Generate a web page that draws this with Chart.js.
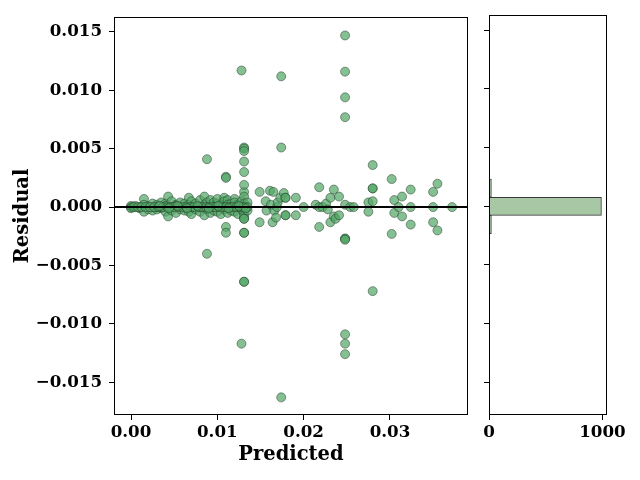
<!DOCTYPE html>
<html>
<head>
<meta charset="utf-8">
<script src="https://cdn.jsdelivr.net/npm/chart.js@4.4.0/dist/chart.umd.min.js"></script>
<style>
    body { margin: 0; background: #fff; width: 640px; height: 480px; position: relative; overflow: hidden; }
    canvas { position: absolute; top: 0; }
    #main { left: 0; }
    #hist { left: 478px; }
</style>
</head>
<body>
<canvas id="main" width="478" height="480"></canvas>
<canvas id="hist" width="162" height="480"></canvas>
<script>
// --- Datos: predicho vs residuo ---
const predicted = [
    0.0000, 0.0000, 0.0000, 0.0000, 0.0005, 0.0005, 0.0010, 0.0010,
    0.0015, 0.0015, 0.0015, 0.0020, 0.0020, 0.0025, 0.0025, 0.0025,
    0.0030, 0.0030, 0.0030, 0.0035, 0.0035, 0.0035, 0.0040, 0.0040, 0.0040,
    0.0043, 0.0043, 0.0047, 0.0047, 0.0047, 0.0052, 0.0052, 0.0052,
    0.0057, 0.0057, 0.0057, 0.0062, 0.0062, 0.0067, 0.0067, 0.0067,
    0.0070, 0.0070, 0.0070, 0.0075, 0.0075, 0.0080, 0.0080, 0.0080,
    0.0085, 0.0085, 0.0085, 0.0088, 0.0088, 0.0092, 0.0092, 0.0092,
    0.0096, 0.0096, 0.0096, 0.0100, 0.0100, 0.0100, 0.0104, 0.0104,
    0.0108, 0.0108, 0.0108, 0.0108, 0.0112, 0.0112, 0.0112,
    0.0116, 0.0116, 0.0116, 0.0120, 0.0120, 0.0120, 0.0124, 0.0124, 0.0124,
    0.0128, 0.0128, 0.0131, 0.0131, 0.0131, 0.0131, 0.0131, 0.0131,
    0.0135, 0.0135, 0.0135,
    // banda densa sobre cero
    0.0003, 0.0008, 0.0012, 0.0017, 0.0022, 0.0027, 0.0032, 0.0037, 0.0042, 0.0045,
    0.0050, 0.0055, 0.0060, 0.0064, 0.0069, 0.0073, 0.0078, 0.0083, 0.0087, 0.0090,
    0.0094, 0.0098, 0.0102, 0.0106, 0.0110, 0.0114, 0.0118, 0.0122, 0.0126, 0.0130,
    0.0033, 0.0044, 0.0054, 0.0065, 0.0077, 0.0090, 0.0101, 0.0113, 0.0125, 0.0133,
    // columna 0.0131 y alrededores
    0.0131, 0.0131, 0.0131, 0.0131, 0.0131, 0.0131, 0.0131, 0.0131, 0.0131, 0.0131,
    0.0131, 0.0131, 0.0128, 0.0128, 0.0110, 0.0110, 0.0110, 0.0110, 0.0088, 0.0088,
    // zona media
    0.0149, 0.0149, 0.0156, 0.0157, 0.0161, 0.0162, 0.0164, 0.0165, 0.0166, 0.0168,
    0.0169, 0.0170, 0.0173, 0.0174, 0.0174, 0.0174, 0.0177, 0.0179, 0.0179, 0.0179, 0.0179,
    0.0191, 0.0191, 0.0200, 0.0214, 0.0218, 0.0218, 0.0218, 0.0222, 0.0226, 0.0228,
    0.0231, 0.0231, 0.0235, 0.0235, 0.0237, 0.0241, 0.0241,
    // columna 0.0248
    0.0248, 0.0248, 0.0248, 0.0248, 0.0248, 0.0248, 0.0248, 0.0248, 0.0248, 0.0248, 0.0248,
    0.0254, 0.0258,
    // derecha
    0.0275, 0.0275, 0.0280, 0.0280, 0.0280, 0.0280, 0.0280, 0.0302, 0.0302,
    0.0305, 0.0305, 0.0310, 0.0314, 0.0314, 0.0324, 0.0324, 0.0324,
    0.0350, 0.0350, 0.0350, 0.0355, 0.0355, 0.0372
];
const residual = [
    0.0000, 0.0000, 0.0001, -0.0001, 0.0000, 0.0001, 0.0000, -0.0001,
    0.0007, -0.0004, 0.0002, 0.0001, -0.0002, 0.0000, 0.0003, -0.0003,
    0.0002, -0.0002, 0.0000, 0.0004, -0.0001, 0.0000, 0.0003, -0.0004, 0.0001,
    0.0009, -0.0008, 0.0005, -0.0003, 0.0000, 0.0002, -0.0005, 0.0001,
    0.0004, 0.0000, -0.0002, 0.0003, -0.0003, 0.0008, 0.0002, -0.0004,
    0.0005, -0.0006, 0.0000, 0.0003, -0.0002, 0.0006, -0.0004, 0.0000,
    0.0009, -0.0007, 0.0002, 0.0004, -0.0002, 0.0002, -0.0005, 0.0006,
    0.0004, 0.0000, -0.0003, 0.0003, -0.0004, 0.0007, 0.0002, -0.0006,
    0.0008, 0.0005, -0.0002, 0.0000, 0.0006, -0.0005, 0.0002,
    0.0003, -0.0003, 0.0000, 0.0007, -0.0004, 0.0004, 0.0002, -0.0006, 0.0000,
    0.0005, -0.0002, 0.0013, 0.0009, -0.0005, 0.0003, -0.0008, 0.0000,
    0.0004, -0.0003, 0.0000,
    0.0000, 0.0000, 0.0000, 0.0000, 0.0000, 0.0000, 0.0000, 0.0000, 0.0000, 0.0000,
    0.0000, 0.0000, 0.0000, 0.0000, 0.0000, 0.0000, 0.0000, 0.0000, 0.0000, 0.0000,
    0.0000, 0.0000, 0.0000, 0.0000, 0.0000, 0.0000, 0.0000, 0.0000, 0.0000, 0.0000,
    0.0001, -0.0001, 0.0001, -0.0001, 0.0001, -0.0001, 0.0001, -0.0001, 0.0001, -0.0001,
    0.0051, 0.0050, 0.0048, 0.0039, 0.0030, 0.0019, -0.0010, -0.0010, -0.0022, -0.0064,
    -0.0064, -0.0022, 0.0117, -0.0117, 0.0026, 0.0025, -0.0017, -0.0022, 0.0041, -0.0040,
    0.0013, -0.0013, 0.0005, -0.0003, 0.0014, 0.0002, -0.0013, 0.0013, -0.0003, -0.0009,
    0.0000, 0.0004, 0.0008, 0.0112, 0.0051, -0.0163, 0.0012, 0.0008, 0.0008, -0.0007, -0.0007,
    0.0008, -0.0007, 0.0000, 0.0002, 0.0017, -0.0017, 0.0000, 0.0000, 0.0003, -0.0002,
    0.0008, -0.0013, 0.0015, -0.0008, -0.0010, 0.0009, -0.0007,
    0.0147, 0.0116, 0.0094, 0.0077, 0.0002, -0.0027, -0.0027, -0.0028, -0.0109, -0.0117, -0.0126,
    0.0000, 0.0000,
    0.0004, -0.0004, 0.0036, 0.0016, 0.0016, 0.0005, -0.0072, 0.0024, -0.0023,
    0.0006, -0.0005, 0.0000, 0.0009, -0.0008, 0.0015, 0.0000, -0.0015,
    0.0013, 0.0000, -0.0013, 0.0020, -0.0020, 0.0000
];

// --- Histograma de residuos (20 bins) ---
const binCenters = [
    -0.015525, -0.013975, -0.012425, -0.010875, -0.009325, -0.007775, -0.006225,
    -0.004675, -0.003125, -0.001575, -0.000025, 0.001525, 0.003075, 0.004625,
    0.006175, 0.007725, 0.009275, 0.010825, 0.012375, 0.013925
];
const binCounts = [1, 0, 3, 1, 0, 1, 2, 1, 3, 21, 991, 21, 5, 6, 0, 1, 1, 2, 1, 1];

const xTicks = [0, 0.01, 0.02, 0.03];
const yTicks = [-0.015, -0.01, -0.005, 0, 0.005, 0.01, 0.015];
const histTicks = [0, 1000];

const Y_MIN = -0.01781, Y_MAX = 0.01628;
const X_MIN = -0.00197, X_MAX = 0.03904;

Chart.defaults.font.family = "'DejaVu Serif', serif";
Chart.defaults.font.weight = "bold";
Chart.defaults.color = "#000";

const tickFont = { size: 16.7, weight: "bold" };
const labelFont = { size: 19.5, weight: "bold" };

// marco completo alrededor del area
const boxPlugin = {
    id: "box",
    afterDraw(chart) {
        const { ctx, chartArea: a } = chart;
        ctx.save();
        ctx.strokeStyle = "#000";
        ctx.lineWidth = 1;
        ctx.strokeRect(Math.round(a.left) + 0.5, Math.round(a.top) + 0.5,
            Math.round(a.right - a.left) - 1, Math.round(a.bottom - a.top) - 1);
        ctx.restore();
    }
};

// linea horizontal en residuo cero
const zeroLine = {
    id: "zeroLine",
    afterDatasetsDraw(chart) {
        const { ctx, chartArea: a, scales } = chart;
        const y = scales.y.getPixelForValue(0);
        ctx.save();
        ctx.strokeStyle = "#000";
        ctx.lineWidth = 2;
        ctx.beginPath();
        ctx.moveTo(a.left, y);
        ctx.lineTo(a.right, y);
        ctx.stroke();
        ctx.restore();
    }
};

const tickGrid = { drawOnChartArea: false, tickLength: 5, tickColor: "#000", tickWidth: 1, offset: false };
const fmtY = v => (v < 0 ? "\u2212" : "") + Math.abs(v).toFixed(3);

new Chart(document.getElementById("main"), {
    type: "scatter",
    data: {
        datasets: [{
            data: predicted.map((p, i) => ({ x: p, y: residual[i] })),
            backgroundColor: "rgba(85,168,104,0.72)",
            borderColor: "rgba(30,50,35,0.6)",
            borderWidth: 0.8,
            pointRadius: 4.5,
            pointHoverRadius: 4.5
        }]
    },
    options: {
        responsive: false,
        animation: false,
        devicePixelRatio: 1,
        layout: { padding: { left: 0, right: 10, top: 15, bottom: 0 } },
        plugins: { legend: { display: false }, tooltip: { enabled: false } },
        scales: {
            x: {
                type: "linear", min: X_MIN, max: X_MAX,
                afterBuildTicks: s => { s.ticks = xTicks.map(v => ({ value: v })); },
                afterFit: s => { s.height = 65; },
                ticks: { font: tickFont, padding: 3, maxRotation: 0, callback: v => v.toFixed(2) },
                grid: tickGrid,
                border: { display: false },
                title: { display: true, text: "Predicted", font: labelFont, padding: { top: 0, bottom: 13 } }
            },
            y: {
                type: "linear", min: Y_MIN, max: Y_MAX,
                afterBuildTicks: s => { s.ticks = yTicks.map(v => ({ value: v })); },
                afterFit: s => { s.width = 114; },
                ticks: { font: tickFont, padding: 7, callback: fmtY },
                grid: tickGrid,
                border: { display: false },
                title: { display: true, text: "Residual", font: labelFont, padding: { top: 11, bottom: 0 } }
            }
        }
    },
    plugins: [boxPlugin, zeroLine]
});

new Chart(document.getElementById("hist"), {
    type: "bar",
    data: {
        datasets: [{
            data: binCounts.map((c, i) => ({ x: c, y: binCenters[i] })),
            backgroundColor: "#a7c7a5",
            borderColor: "#3a3a3a",
            borderWidth: 1,
            barPercentage: 1,
            categoryPercentage: 1
        }]
    },
    options: {
        indexAxis: "y",
        responsive: false,
        animation: false,
        devicePixelRatio: 1,
        layout: { padding: { left: 0, right: 33, top: 15, bottom: 0 } },
        plugins: { legend: { display: false }, tooltip: { enabled: false } },
        scales: {
            x: {
                type: "linear", min: 0, max: 1040,
                afterBuildTicks: s => { s.ticks = histTicks.map(v => ({ value: v })); },
                afterFit: s => { s.height = 65; },
                ticks: { font: tickFont, padding: 3, maxRotation: 0, callback: v => String(v) },
                grid: tickGrid,
                border: { display: false }
            },
            y: {
                type: "linear", min: Y_MIN, max: Y_MAX, offset: false,
                afterBuildTicks: s => { s.ticks = yTicks.map(v => ({ value: v })); },
                afterFit: s => { s.width = 11; },
                ticks: { display: false },
                grid: tickGrid,
                border: { display: false }
            }
        }
    },
    plugins: [boxPlugin]
});
</script>
</body>
</html>
